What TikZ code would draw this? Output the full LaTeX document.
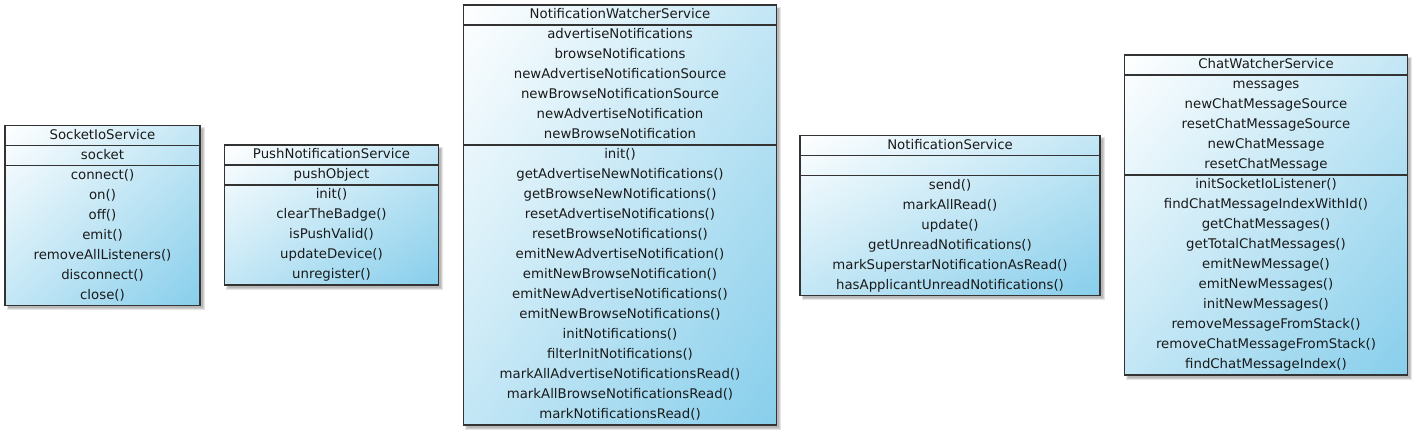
\documentclass[tikz,border=0pt]{standalone}
\usepackage{fontspec}
\setmainfont{DejaVu Sans}
\usetikzlibrary{calc,shadings}
\definecolor{boxblue}{HTML}{87CEEB}
\definecolor{boxline}{HTML}{333333}
\definecolor{txtcol}{HTML}{1A1A1A}
\tikzset{
  classbox/.style={draw=boxline, line width=1.5pt, rectangle, inner sep=0pt, outer sep=0pt,
    upper left=white, lower right=boxblue, upper right=boxblue!50!white, lower left=boxblue!50!white},
  sepline/.style={draw=boxline, line width=1.5pt},
  shadowlayer/.style={fill=black, opacity=0.10},
  txt/.style={anchor=base, inner sep=0pt, text=txtcol, font=\fontsize{13.3}{16}\selectfont},
}
\newcommand\umlclass[9]{%
  \pgfmathsetmacro\cx{(#2+#4)/2}%
  \pgfmathsetmacro\sa{#3+20}%
  \pgfmathsetmacro\sb{#3+20+20*#5}%
  \pgfmathsetmacro\bt{\sb+20*#6}%
  \fill[shadowlayer] (#2+1.5,#3+1.5) rectangle (#4+4.5,\bt+4.5);
  \fill[shadowlayer] (#2+2.5,#3+2.5) rectangle (#4+3.5,\bt+3.5);
  \fill[shadowlayer] (#2+3,#3+3) rectangle (#4+2.5,\bt+2.5);
  \node[classbox, anchor=north west, minimum width={(#4-#2)*1pt}, minimum height={(\bt-#3)*1pt}] (#1) at (#2,#3) {};
  \draw[sepline] (#2,\sa) -- (#4,\sa);
  \draw[sepline] (#2,\sb) -- (#4,\sb);
  \node[txt] (#1-title) at (\cx,#3+13.6) {#7};
  \if\relax\detokenize{#8}\relax\else
  \foreach \itm [count=\i] in {#8} \node[txt] (#1-a\i) at (\cx,\sa+20*\i-6.4) {\itm};
  \fi
  \foreach \itm [count=\i] in {#9} \node[txt] (#1-m\i) at (\cx,\sb+20*\i-6.4) {\itm};
}
\begin{document}
\begin{tikzpicture}[x=1pt,y=-1pt]
\fill[white] (0,0) rectangle (1413,432);
\useasboundingbox (0,0) rectangle (1413,432);

\umlclass{sock}{5}{125.5}{200}{1}{7}{SocketIoService}{socket}
  {connect(),on(),off(),emit(),removeAllListeners(),disconnect(),close()}

\umlclass{push}{224.5}{145}{438.5}{1}{5}{PushNotificationService}{pushObject}
  {init(),clearTheBadge(),isPushValid(),updateDevice(),unregister()}

\umlclass{nws}{463.5}{5}{776.5}{6}{14}{NotificationWatcherService}
  {advertiseNotifications,browseNotifications,newAdvertiseNotificationSource,newBrowseNotificationSource,newAdvertiseNotification,newBrowseNotification}
  {init(),getAdvertiseNewNotifications(),getBrowseNewNotifications(),resetAdvertiseNotifications(),resetBrowseNotifications(),emitNewAdvertiseNotification(),emitNewBrowseNotification(),emitNewAdvertiseNotifications(),emitNewBrowseNotifications(),initNotifications(),filterInitNotifications(),markAllAdvertiseNotificationsRead(),markAllBrowseNotificationsRead(),markNotificationsRead()}

\umlclass{ns}{800}{135.5}{1100}{1}{6}{NotificationService}{}
  {send(),markAllRead(),update(),getUnreadNotifications(),markSuperstarNotificationAsRead(),hasApplicantUnreadNotifications()}

\umlclass{cws}{1124.5}{55}{1407.5}{5}{10}{ChatWatcherService}
  {messages,newChatMessageSource,resetChatMessageSource,newChatMessage,resetChatMessage}
  {initSocketIoListener(),findChatMessageIndexWithId(),getChatMessages(),getTotalChatMessages(),emitNewMessage(),emitNewMessages(),initNewMessages(),removeMessageFromStack(),removeChatMessageFromStack(),findChatMessageIndex()}
\end{tikzpicture}
\end{document}
